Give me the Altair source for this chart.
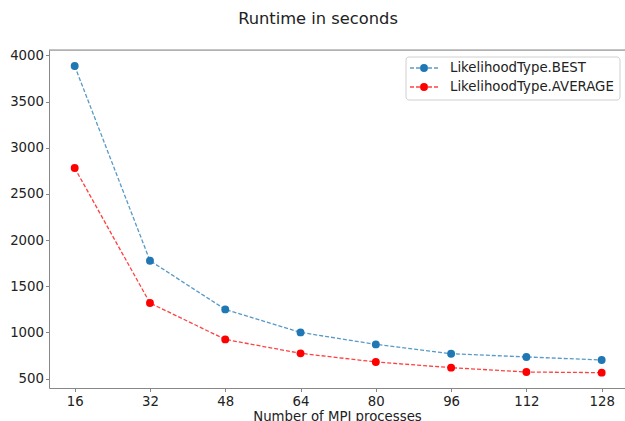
import altair as alt
import pandas as pd

processes = [16, 32, 48, 64, 80, 96, 112, 128]
best = [3885, 1777, 1250, 1001, 871, 770, 735, 702]
average = [2781, 1319, 925, 774, 681, 619, 572, 565]
series = ["LikelihoodType.BEST", "LikelihoodType.AVERAGE"]
colors = ["#1f77b4", "#ff0000"]
x_ticks = [16, 32, 48, 64, 80, 96, 112, 128]
y_ticks = [500, 1000, 1500, 2000, 2500, 3000, 3500, 4000]

rows = []
for p, v in zip(processes, best):
    rows.append({"processes": p, "runtime": v, "series": series[0]})
for p, v in zip(processes, average):
    rows.append({"processes": p, "runtime": v, "series": series[1]})
df = pd.DataFrame(rows)

W, H = 576, 338
FONT = "DejaVu Sans"
FS = 13.3
AX = "#888"

xenc = alt.X(
    "processes:Q",
    scale=alt.Scale(domain=[10.54, 132.96], nice=False, zero=False),
    axis=alt.Axis(values=x_ticks, title="Number of MPI processes", grid=False,
                  tickSize=3.5, labelPadding=3, titlePadding=2, labelFontSize=FS,
                  titleFontSize=FS, titleFontWeight="normal", labelColor="#222",
                  titleColor="#222", domainColor=AX, tickColor=AX,
                  labelFont=FONT, titleFont=FONT, labelFlush=False, format="d"),
)
yenc = alt.Y(
    "runtime:Q",
    scale=alt.Scale(domain=[399, 4058], nice=False, zero=False),
    axis=alt.Axis(values=y_ticks, title=None, grid=False, tickSize=3.5,
                  labelPadding=2, labelFontSize=FS, labelColor="#222",
                  domainColor=AX, tickColor=AX, labelFont=FONT,
                  labelFlush=False, format="d"),
)
cenc = alt.Color("series:N", scale=alt.Scale(domain=series, range=colors), legend=None)

base = alt.Chart(df)
lines = base.mark_line(strokeDash=[4, 2], strokeWidth=1.3, opacity=0.75).encode(
    x=xenc, y=yenc, color=cenc, detail="series:N")
points = base.mark_circle(size=62, opacity=1).encode(x=xenc, y=yenc, color=cenc)

top_spine = alt.Chart(pd.DataFrame({"a": [0]})).mark_rule(color=AX, strokeWidth=1).encode(
    x=alt.value(0), x2=alt.value(W), y=alt.value(0))

# legend
lx0, lx1, ly0, ly1 = 357, 571, 7, 50
legend_layers = [
    alt.Chart(pd.DataFrame({"a": [0]})).mark_rect(
        fill="white", fillOpacity=0.8, stroke="#d0d0d0", strokeWidth=1, cornerRadius=3
    ).encode(x=alt.value(lx0), x2=alt.value(lx1), y=alt.value(ly0), y2=alt.value(ly1))
]
row_y = [18, 37]
for name, col, ry in zip(series, colors, row_y):
    ldf = pd.DataFrame({"label": [name]})
    legend_layers.append(
        alt.Chart(ldf).mark_rule(color=col, strokeDash=[4, 2], strokeWidth=1.3, opacity=0.75)
        .encode(x=alt.value(361), x2=alt.value(389), y=alt.value(ry)))
    legend_layers.append(
        alt.Chart(ldf).mark_circle(color=col, size=62, opacity=1)
        .encode(x=alt.value(375), y=alt.value(ry)))
    legend_layers.append(
        alt.Chart(ldf).mark_text(align="left", baseline="middle", fontSize=FS, font=FONT,
                                 color="#222")
        .encode(x=alt.value(401), y=alt.value(ry), text="label:N"))

chart = alt.layer(lines, points, top_spine, *legend_layers).properties(
    width=W, height=H,
    title=alt.TitleParams("Runtime in seconds", anchor="middle", dx=-19, offset=21,
                          fontSize=16.3, fontWeight="normal", font=FONT, color="#222"),
    autosize=alt.AutoSizeParams(type="none"),
    padding={"left": 49, "top": 50, "right": 0, "bottom": 33},
).configure_view(stroke=None).configure(background="white")

chart.save("out.html", embed_options={"renderer": "svg", "actions": False})
